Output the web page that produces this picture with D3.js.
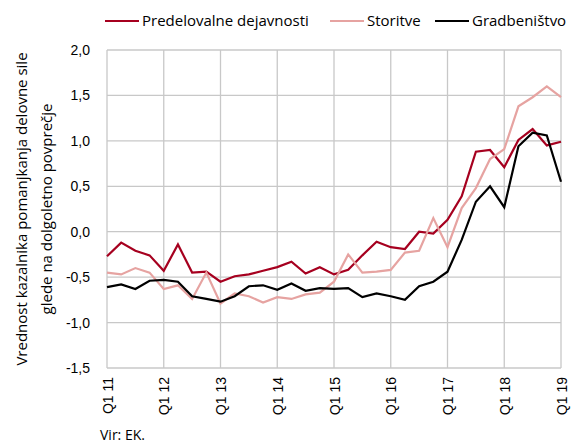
<!DOCTYPE html>
<html>
<head>
<meta charset="utf-8">
<script src="https://cdn.jsdelivr.net/npm/d3@7"></script>
<style>
  body { margin: 0; background: #fff; }
  svg { display: block; font-family: "Open Sans", "Noto Sans", sans-serif; }
  .grid line { stroke: #c8c8c8; stroke-width: 1.3; }
  .tick text { fill: #000; font-size: 14px; }
</style>
</head>
<body>
<svg id="chart" width="583" height="445"></svg>
<script>
// quarters Q1 11 .. Q1 19
var quarters = d3.range(33);
var tickLabels = ["Q1 11", "Q1 12", "Q1 13", "Q1 14", "Q1 15", "Q1 16", "Q1 17", "Q1 18", "Q1 19"];
var yTicks = [-1.5, -1.0, -0.5, 0.0, 0.5, 1.0, 1.5, 2.0];

var predelovalne = [-0.27, -0.12, -0.21, -0.26, -0.43, -0.14, -0.45, -0.44, -0.55, -0.49, -0.47, -0.43, -0.39, -0.33, -0.46, -0.39,
  -0.47, -0.42, -0.26, -0.11, -0.17, -0.19, 0.0, -0.02, 0.13, 0.39, 0.88, 0.90, 0.71, 1.01, 1.13, 0.95, 0.99];
var storitve = [-0.45, -0.47, -0.40, -0.45, -0.63, -0.59, -0.74, -0.45, -0.79, -0.68, -0.71, -0.78, -0.72, -0.74, -0.69, -0.67,
  -0.55, -0.25, -0.45, -0.44, -0.42, -0.23, -0.21, 0.15, -0.17, 0.26, 0.48, 0.80, 0.91, 1.38, 1.48, 1.60, 1.48];
var gradbenistvo = [-0.61, -0.58, -0.63, -0.54, -0.53, -0.55, -0.71, -0.74, -0.77, -0.71, -0.60, -0.59, -0.64, -0.57, -0.65, -0.62,
  -0.63, -0.62, -0.72, -0.68, -0.71, -0.75, -0.60, -0.55, -0.44, -0.09, 0.33, 0.50, 0.27, 0.94, 1.09, 1.06, 0.55];

var seriesNames = ["Predelovalne dejavnosti", "Storitve", "Gradbeništvo"];
var seriesColors = ["#a6001f", "#e6a3a1", "#000000"];
var series = [predelovalne, storitve, gradbenistvo];

var svg = d3.select("#chart"),
    margin = {top: 50, right: 22, bottom: 77, left: 107},
    width = +svg.attr("width") - margin.left - margin.right,
    height = +svg.attr("height") - margin.top - margin.bottom,
    g = svg.append("g").attr("transform", "translate(" + margin.left + "," + margin.top + ")");

var x = d3.scaleLinear().domain([0, 32]).range([0, width]);
var y = d3.scaleLinear().domain([-1.5, 2.0]).range([height, 0]);
var fmt = function(d) { return d3.format(".1f")(d).replace(".", ",").replace("−", "-"); };

// grid
g.append("g")
    .attr("class", "grid")
    .selectAll("line.h")
    .data(yTicks)
  .enter().append("line")
    .attr("x1", 0).attr("x2", width)
    .attr("y1", function(d) { return y(d); })
    .attr("y2", function(d) { return y(d); });

g.append("g")
    .attr("class", "grid")
    .selectAll("line.v")
    .data(d3.range(0, 33, 4))
  .enter().append("line")
    .attr("y1", 0).attr("y2", height)
    .attr("x1", function(d) { return x(d); })
    .attr("x2", function(d) { return x(d); });

// y axis labels
var yAxis = g.append("g")
    .call(d3.axisLeft(y).tickValues(yTicks).tickFormat(fmt).tickSize(0).tickPadding(17));
yAxis.select(".domain").remove();

// x axis labels
var xAxis = g.append("g")
    .attr("transform", "translate(0," + height + ")")
    .call(d3.axisBottom(x).tickValues(d3.range(0, 33, 4))
      .tickFormat(function(d, i) { return tickLabels[i]; }).tickSize(0));
xAxis.select(".domain").remove();
xAxis.selectAll("text")
    .attr("transform", "rotate(-90)")
    .attr("text-anchor", "end")
    .attr("x", -9)
    .attr("y", 0)
    .attr("dy", "0.36em");

// lines
var line = d3.line()
    .x(function(d, i) { return x(quarters[i]); })
    .y(function(d) { return y(d); });

g.selectAll(".series")
    .data(series)
  .enter().append("path")
    .attr("class", "series")
    .attr("fill", "none")
    .attr("stroke-width", 2.2)
    .attr("stroke-linejoin", "miter")
    .attr("stroke", function(d, i) { return seriesColors[i]; })
    .attr("d", line);

// y title
var yTitle = svg.append("text")
    .attr("transform", "translate(22," + (margin.top + height / 2) + ") rotate(-90)")
    .attr("text-anchor", "middle")
    .style("font-size", "15px");
yTitle.append("tspan").attr("x", 0).attr("dy", "0.35em").text("Vrednost kazalnika pomanjkanja delovne sile");
yTitle.append("tspan").attr("x", 0).attr("dy", "1.65em").text("glede na dolgoletno povprečje");

// legend
var legendX = [105, 330, 435];
var legend = svg.selectAll(".legend")
    .data(seriesNames)
  .enter().append("g")
    .attr("class", "legend")
    .attr("transform", function(d, i) { return "translate(" + legendX[i] + ",21)"; });
legend.append("line")
    .attr("x1", 0).attr("x2", 34)
    .attr("stroke-width", 2.2)
    .attr("stroke", function(d, i) { return seriesColors[i]; });
legend.append("text")
    .attr("x", 37)
    .attr("dy", "0.35em")
    .style("font-size", "15px")
    .text(function(d) { return d; });

// source
svg.append("text")
    .attr("x", 100)
    .attr("y", 440)
    .style("font-size", "14px")
    .text("Vir: EK.");
</script>
</body>
</html>
